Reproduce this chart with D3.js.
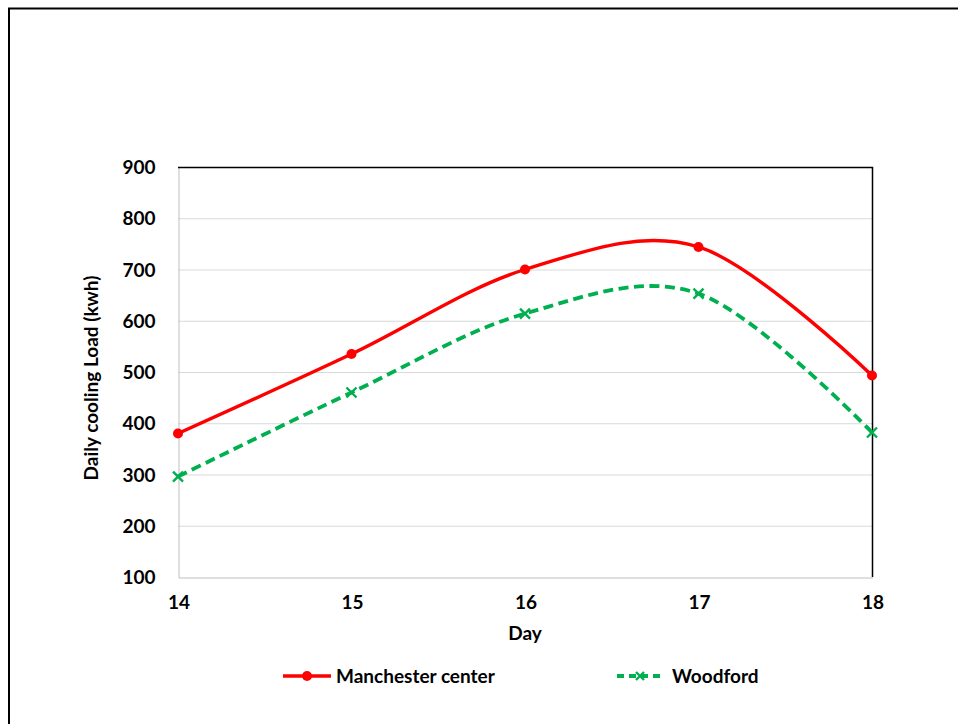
<!DOCTYPE html>
<html>
<head>
<meta charset="utf-8">
<script src="https://cdn.jsdelivr.net/npm/d3@7"></script>
<style>
  html, body { margin: 0; padding: 0; background: #fff; }
  svg { display: block; }
  text { font-family: Lato, "Open Sans", "Liberation Sans", sans-serif; font-weight: bold; fill: #000; }
</style>
</head>
<body>
<svg id="chart" width="958" height="724"></svg>
<script>
// Daily cooling load per day for two sites
const days = [14, 15, 16, 17, 18];
const manchester = [380, 535, 700, 744, 493];
const woodford = [296, 460, 614, 653, 382];
const yTicks = [100, 200, 300, 400, 500, 600, 700, 800, 900];
const seriesNames = ["Manchester center", "Woodford"];

const fs = 19;
const svg = d3.select("#chart");

// frame around the whole figure
svg.append("path")
  .attr("d", "M9,724 V8.5 H958")
  .attr("fill", "none").attr("stroke", "#000").attr("stroke-width", 2);

const plotL = 178, plotR = 872, plotT = 167, plotB = 577;
const x = d3.scaleLinear().domain([14, 18]).range([plotL, plotR]);
const y = d3.scaleLinear().domain([100, 900]).range([plotB, plotT]);

// horizontal gridlines
svg.append("g").selectAll("line").data(yTicks.slice(1)).join("line")
  .attr("x1", plotL).attr("x2", plotR)
  .attr("y1", d => y(d) + 0.5).attr("y2", d => y(d) + 0.5)
  .attr("stroke", "#d9d9d9").attr("stroke-width", 1);

// axes
const yAxis = svg.append("g").attr("transform", `translate(${plotL + 0.5},0.5)`)
  .call(d3.axisLeft(y).tickValues(yTicks).tickSize(0).tickPadding(23));
yAxis.select(".domain").attr("stroke", "#bfbfbf");
yAxis.selectAll("text").attr("font-size", fs);

const xAxis = svg.append("g").attr("transform", `translate(0.5,${plotB + 0.5})`)
  .call(d3.axisBottom(x).tickValues(days).tickFormat(d3.format("d")).tickSize(0).tickPadding(18));
xAxis.select(".domain").attr("stroke", "#bfbfbf");
xAxis.selectAll("text").attr("font-size", fs);

// top and right edges of the plot area
svg.append("path")
  .attr("d", `M${plotL},${plotT + 0.5} H${plotR + 0.5} V${plotB}`)
  .attr("fill", "none").attr("stroke", "#000").attr("stroke-width", 1.5);

// axis titles
svg.append("text").attr("x", (plotL + plotR) / 2).attr("y", 640)
  .attr("text-anchor", "middle").attr("font-size", fs).text("Day");
svg.append("text")
  .attr("transform", `translate(98,${(plotT + plotB) / 2 + 6}) rotate(-90)`)
  .attr("text-anchor", "middle").attr("font-size", fs).text("Daily cooling Load (kwh)");

const line = d3.line()
  .x((d, i) => x(days[i]))
  .y(d => y(d))
  .curve(d3.curveCatmullRom.alpha(0));

// Manchester center
svg.append("path").datum(manchester)
  .attr("d", line).attr("fill", "none")
  .attr("stroke", "#ff0000").attr("stroke-width", 3.4);
svg.append("g").selectAll("circle").data(manchester).join("circle")
  .attr("cx", (d, i) => x(days[i])).attr("cy", d => y(d)).attr("r", 5)
  .attr("fill", "#ff0000");

// Woodford
svg.append("path").datum(woodford)
  .attr("d", line).attr("fill", "none")
  .attr("stroke", "#00b050").attr("stroke-width", 3.8)
  .attr("stroke-dasharray", "10,5.5");
const cross = (cx, cy, s) => `M${cx - s},${cy - s}L${cx + s},${cy + s}M${cx - s},${cy + s}L${cx + s},${cy - s}`;
svg.append("g").selectAll("path").data(woodford).join("path")
  .attr("d", (d, i) => cross(x(days[i]), y(d), 5))
  .attr("stroke", "#00b050").attr("stroke-width", 2.4).attr("fill", "none");

// legend
const ly = 676;
svg.append("line").attr("x1", 283).attr("x2", 331).attr("y1", ly).attr("y2", ly)
  .attr("stroke", "#ff0000").attr("stroke-width", 3.4);
svg.append("circle").attr("cx", 307).attr("cy", ly).attr("r", 5).attr("fill", "#ff0000");
svg.append("text").attr("x", 336).attr("y", ly + 7).attr("font-size", fs).text(seriesNames[0]);

svg.append("line").attr("x1", 617).attr("x2", 662).attr("y1", ly).attr("y2", ly)
  .attr("stroke", "#00b050").attr("stroke-width", 3.8).attr("stroke-dasharray", "7,5");
svg.append("path").attr("d", cross(640, ly, 4)).attr("stroke", "#00b050")
  .attr("stroke-width", 2.4).attr("fill", "none");
svg.append("text").attr("x", 672).attr("y", ly + 7).attr("font-size", fs).text(seriesNames[1]);
</script>
</body>
</html>
